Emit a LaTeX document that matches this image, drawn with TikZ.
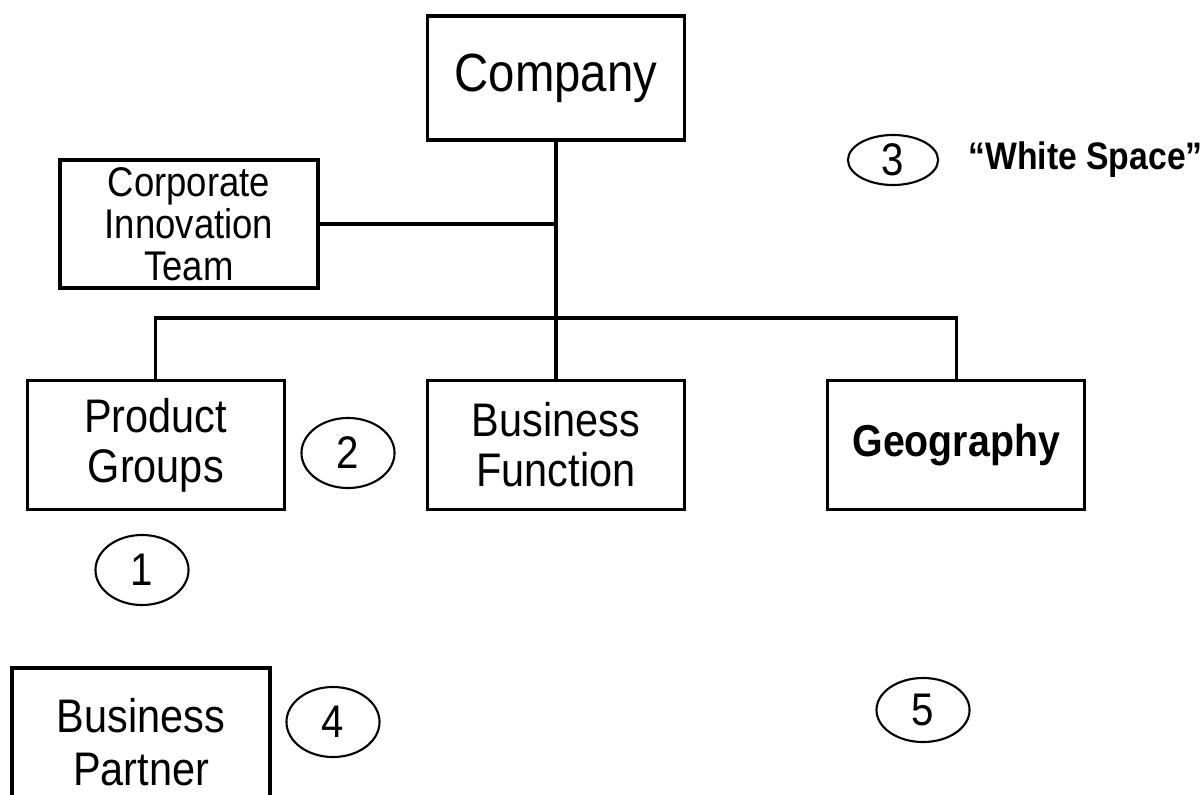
\documentclass[tikz,border=0pt]{standalone}
\usepackage{fontspec}
\setmainfont[FakeStretch=0.88]{Liberation Sans}
\usetikzlibrary{positioning, shapes.geometric}

\begin{document}
\begin{tikzpicture}[x=0.01cm, y=-0.01cm, node distance=4cm,
		box/.style = {draw, line width=0.9pt, minimum width=2.57cm, minimum height=1.29cm, align=center, inner sep=0pt},
		num/.style = {draw, ellipse, line width=0.6pt, minimum width=0.93cm, minimum height=0.70cm, inner sep=0pt, font=\fontsize{13}{13}\selectfont}]
			\useasboundingbox (0,0) rectangle (1204,794);
			\node[box, font=\fontsize{13.4}{14.2}\selectfont] (function) at (556,445) {Business\\Function};
			\node[box, font=\fontsize{13.4}{14.2}\selectfont] (product) [left of=function] {Product\\Groups};
			\node[box, font=\fontsize{12.7}{14}\selectfont\bfseries] (geography) [right of=function] {Geography};
			\node[box, minimum height=1.24cm, font=\fontsize{15.3}{16}\selectfont] (company) at (556,78) {Company};
			\node[box, minimum width=2.58cm, minimum height=1.28cm, font=\fontsize{11.8}{12}\selectfont] (innovation) at (189,224) {Corporate\\Innovation\\Team};
			\node[box, minimum width=2.58cm, minimum height=1.48cm, font=\fontsize{13.4}{15}\selectfont] (partner) at (141,742) {Business\\Partner};
			\node[num] (one) at (142,570) {1};
			\node[num] (two) at (348,453) {2};
			\node[num, minimum width=0.90cm, minimum height=0.50cm] (three) at (893,160) {3};
			\node[num] (four) at (333,722) {4};
			\node[num, minimum height=0.64cm] (five) at (923,710) {5};
			\node[anchor=west, font=\fontsize{10.9}{12}\selectfont\bfseries] (whitespace) at (956,160) {“White Space”};
			\coordinate (bus) at (556,318);
			\draw[line width=0.9pt] (company) -- (function);
			\draw[line width=0.9pt] (innovation) -- (innovation -| company);
			\draw[line width=0.9pt] (product.north) |- (bus) -| (geography.north);
		\end{tikzpicture}
\end{document}
